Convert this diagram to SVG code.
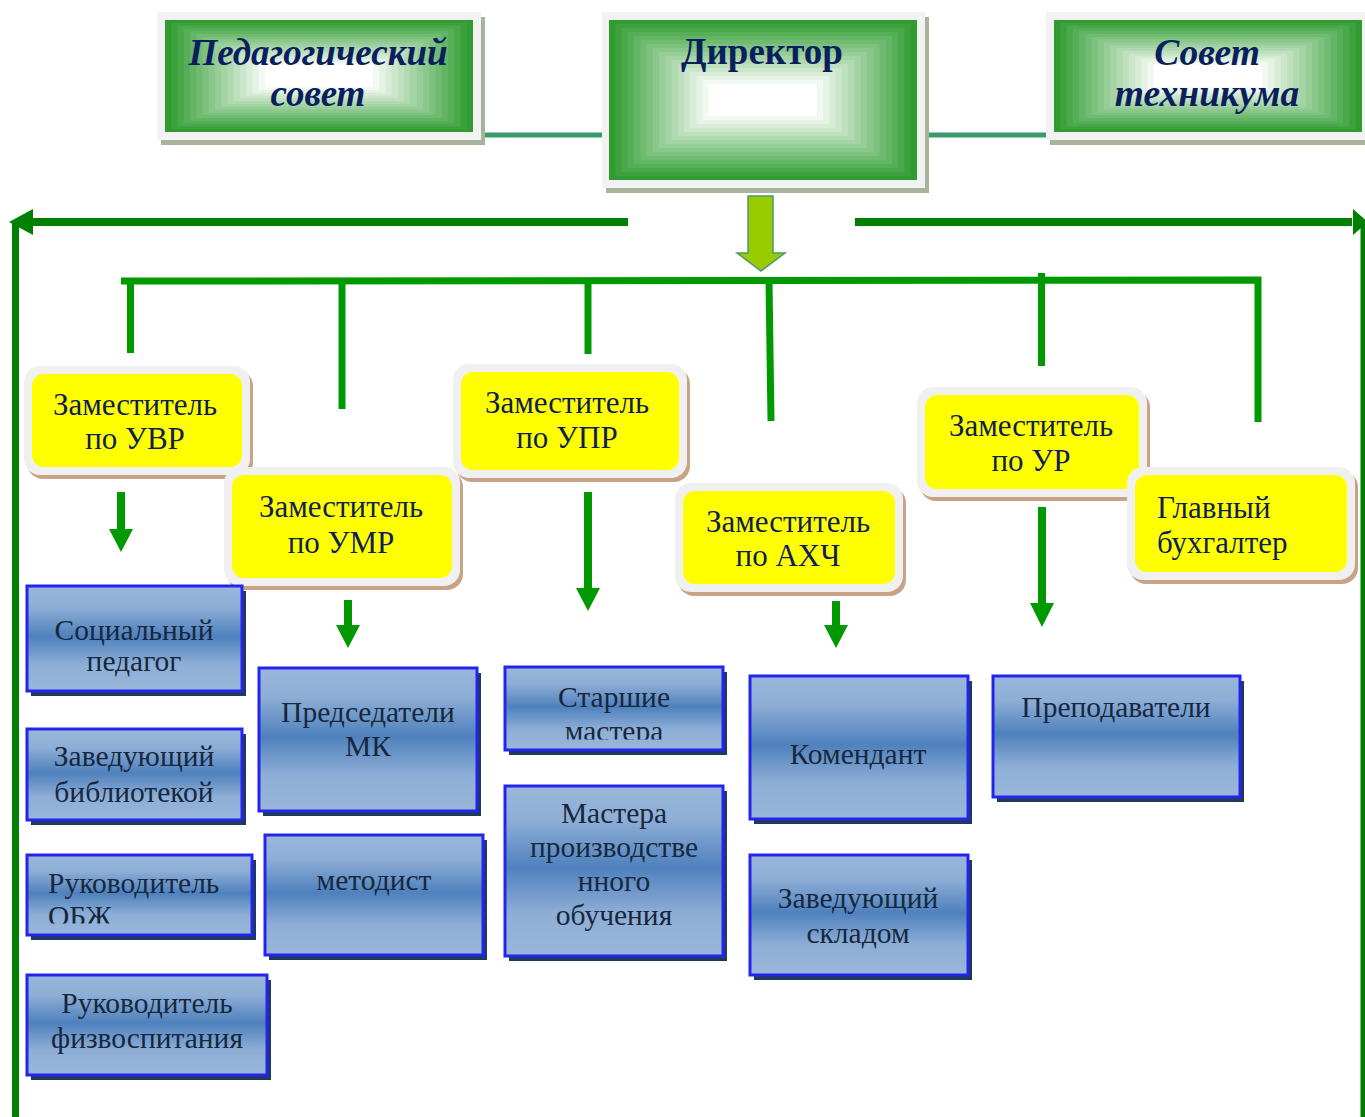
<svg xmlns="http://www.w3.org/2000/svg" xmlns:xlink="http://www.w3.org/1999/xlink" width="1365" height="1117" viewBox="0 0 1365 1117">
<defs>
<style>
.gshadow{fill:#a9b29a}
.gframe{fill:#f2f2f2}
.gtext{font-family:"Liberation Serif",serif;font-weight:bold;fill:#0b1f5e;text-anchor:middle}
.yshadow{fill:#c9a386}
.yframe{fill:#f0f0f0}
.ybox{fill:#ffff00}
.ytext{font-family:"Liberation Serif",serif;font-size:31px;fill:#0f1f55;text-anchor:middle}
.bshadow{fill:#1f3a5c}
.bbox{fill:url(#blueg);stroke:#2424ec;stroke-width:3}
.btext{font-family:"Liberation Serif",serif;font-size:29.5px;fill:#17283e;text-anchor:middle}
.start{text-anchor:start}
.bus{stroke:#009900;stroke-width:7;fill:none}
.main{stroke:#008000;stroke-width:8;fill:none}
.teal{stroke:#3a9a6e;stroke-width:5}
.sarrow{fill:#009900}
</style>
<linearGradient id="blueg" x1="0" y1="0" x2="0" y2="1">
<stop offset="0" stop-color="#9ab7da"/>
<stop offset="0.2" stop-color="#8eaed6"/>
<stop offset="0.48" stop-color="#4f81bd"/>
<stop offset="0.75" stop-color="#8eaed6"/>
<stop offset="1" stop-color="#9ab7da"/>
</linearGradient>
<symbol id="rectgrad" viewBox="0 0 100 100" preserveAspectRatio="none">
<rect x="0" y="0" width="100" height="100" fill="#2f9b30"/>
<rect x="2.031" y="2.5" width="95.94" height="95" fill="#3ca13d"/>
<rect x="4.063" y="5" width="91.88" height="90" fill="#49a84a"/>
<rect x="6.094" y="7.5" width="87.81" height="85" fill="#56ae57"/>
<rect x="8.125" y="10" width="83.75" height="80" fill="#63b464"/>
<rect x="10.156" y="12.5" width="79.69" height="75" fill="#70ba71"/>
<rect x="12.188" y="15" width="75.63" height="70" fill="#7dc17e"/>
<rect x="14.219" y="17.5" width="71.56" height="65" fill="#8ac78b"/>
<rect x="16.25" y="20" width="67.5" height="60" fill="#97cd98"/>
<rect x="18.281" y="22.5" width="63.44" height="55" fill="#a4d3a4"/>
<rect x="20.313" y="25" width="59.38" height="50" fill="#b1dab1"/>
<rect x="22.344" y="27.5" width="55.31" height="45" fill="#bee0be"/>
<rect x="24.375" y="30" width="51.25" height="40" fill="#cbe6cb"/>
<rect x="26.406" y="32.5" width="47.19" height="35" fill="#d8ecd8"/>
<rect x="28.438" y="35" width="43.13" height="30" fill="#e5f3e5"/>
<rect x="30.469" y="37.5" width="39.06" height="25" fill="#f2f9f2"/>
<rect x="32.5" y="40" width="35" height="20" fill="#ffffff"/>
</symbol>
<clipPath id="clipObzh"><rect x="27" y="855" width="225" height="68.5"/></clipPath>
<clipPath id="clipSm"><rect x="505" y="667" width="218" height="72.5"/></clipPath>
</defs>
<rect width="1365" height="1117" fill="#ffffff"/>

<g id="connectors">
<line class="teal" x1="478" y1="135" x2="603" y2="135"/>
<line class="teal" x1="924" y1="135" x2="1048" y2="135"/>
<line class="main" x1="30" y1="222" x2="628" y2="222"/>
<line x1="15.5" y1="222" x2="15.5" y2="1117" stroke="#008000" stroke-width="7"/>
<polygon fill="#008000" points="9,222 33,209 33,235"/>
<line class="main" x1="855" y1="222" x2="1352" y2="222"/>
<line x1="1363" y1="222" x2="1363" y2="1117" stroke="#008000" stroke-width="5"/>
<polygon fill="#008000" points="1368,222 1353,209 1353,235"/>
<polygon points="748,196 773,196 773,253 785,253 761,271 737,253 748,253" fill="#99cc00" stroke="#4a9a6a" stroke-width="1.5"/>
<polyline class="bus" points="121,281 1258,280 1258,422"/>
<line class="bus" x1="130.5" y1="281" x2="130.5" y2="353"/>
<line class="bus" x1="342" y1="281" x2="342" y2="409"/>
<line class="bus" x1="588" y1="281" x2="588" y2="354"/>
<line class="bus" x1="769" y1="281" x2="771" y2="421"/>
<line class="bus" x1="1041.5" y1="273" x2="1041.5" y2="366"/>
<polygon class="sarrow" points="117,492 125,492 125,529 133,529 121,552 109,529 117,529"/>
<polygon class="sarrow" points="344,600 352,600 352,625 360,625 348,648 336,625 344,625"/>
<polygon class="sarrow" points="584,492 592,492 592,588 600,588 588,611 576,588 584,588"/>
<polygon class="sarrow" points="832,601 840,601 840,625 848,625 836,648 824,625 832,625"/>
<polygon class="sarrow" points="1038,507 1046,507 1046,603 1054,603 1042,627 1030,603 1038,603"/>
</g>

<g id="ped-sovet">
<rect class="gshadow" x="161" y="17" width="324" height="128"/>
<rect class="gframe" x="157" y="12" width="324" height="128"/>
<use href="#rectgrad" xlink:href="#rectgrad" x="165" y="20" width="308" height="112"/>
<text class="gtext" font-style="italic" font-size="37" x="318" y="65">Педагогический</text>
<text class="gtext" font-style="italic" font-size="37" x="318" y="106">совет</text>
</g>

<g id="director">
<rect class="gshadow" x="606" y="17" width="323" height="176"/>
<rect class="gframe" x="602" y="12" width="323" height="176"/>
<use href="#rectgrad" xlink:href="#rectgrad" x="609" y="20" width="308" height="160"/>
<text class="gtext" font-size="37" x="762" y="64">Директор</text>
</g>

<g id="sovet-tekhnikuma">
<rect class="gshadow" x="1050" y="17" width="324" height="128"/>
<rect class="gframe" x="1046" y="12" width="324" height="128"/>
<use href="#rectgrad" xlink:href="#rectgrad" x="1054" y="20" width="308" height="112"/>
<text class="gtext" font-style="italic" font-size="37.5" x="1207" y="65">Совет</text>
<text class="gtext" font-style="italic" font-size="37.5" x="1207" y="106">техникума</text>
</g>

<g id="zam-uvr">
<rect class="yshadow" x="27" y="370" width="226" height="109" rx="16"/>
<rect class="yframe" x="24" y="366" width="226" height="109" rx="16"/>
<rect class="ybox" x="32" y="374" width="210" height="93" rx="12"/>
<text class="ytext" x="135" y="415">Заместитель</text>
<text class="ytext" x="135" y="449">по УВР</text>
</g>

<g id="zam-umr">
<rect class="yshadow" x="227" y="471" width="236" height="119" rx="16"/>
<rect class="yframe" x="224" y="467" width="236" height="119" rx="16"/>
<rect class="ybox" x="232" y="475" width="220" height="103" rx="12"/>
<text class="ytext" x="341" y="517">Заместитель</text>
<text class="ytext" x="341" y="553">по УМР</text>
</g>

<g id="zam-upr">
<rect class="yshadow" x="456" y="368" width="234" height="114" rx="16"/>
<rect class="yframe" x="453" y="364" width="234" height="114" rx="16"/>
<rect class="ybox" x="461" y="372" width="218" height="98" rx="12"/>
<text class="ytext" x="567" y="413">Заместитель</text>
<text class="ytext" x="567" y="448">по УПР</text>
</g>

<g id="zam-akhch">
<rect class="yshadow" x="678" y="487" width="228" height="109" rx="16"/>
<rect class="yframe" x="675" y="483" width="228" height="109" rx="16"/>
<rect class="ybox" x="683" y="491" width="212" height="93" rx="12"/>
<text class="ytext" x="788" y="532">Заместитель</text>
<text class="ytext" x="788" y="566">по АХЧ</text>
</g>

<g id="zam-ur">
<rect class="yshadow" x="920" y="391" width="230" height="110" rx="16"/>
<rect class="yframe" x="917" y="387" width="230" height="110" rx="16"/>
<rect class="ybox" x="925" y="395" width="214" height="94" rx="12"/>
<text class="ytext" x="1031" y="436">Заместитель</text>
<text class="ytext" x="1031" y="471">по УР</text>
</g>

<g id="glavbukh">
<rect class="yshadow" x="1130" y="471" width="228" height="113" rx="16"/>
<rect class="yframe" x="1127" y="467" width="228" height="113" rx="16"/>
<rect class="ybox" x="1135" y="475" width="212" height="97" rx="12"/>
<text class="ytext start" x="1157" y="518">Главный</text>
<text class="ytext start" x="1157" y="553">бухгалтер</text>
</g>

<g id="soc-pedagog">
<rect class="bshadow" x="31" y="591" width="215" height="105"/>
<rect class="bbox" x="27" y="586" width="215" height="105"/>
<text class="btext" x="134" y="640">Социальный</text>
<text class="btext" x="134" y="671">педагог</text>
</g>

<g id="zav-bibl">
<rect class="bshadow" x="31" y="734" width="215" height="91"/>
<rect class="bbox" x="27" y="729" width="215" height="91"/>
<text class="btext" x="134" y="766">Заведующий</text>
<text class="btext" x="134" y="802">библиотекой</text>
</g>

<g id="ruk-obzh">
<rect class="bshadow" x="31" y="860" width="225" height="80"/>
<rect class="bbox" x="27" y="855" width="225" height="80"/>
<g clip-path="url(#clipObzh)">
<text class="btext start" x="48" y="893">Руководитель</text>
<text class="btext start" x="48" y="926">ОБЖ</text>
</g>
</g>

<g id="ruk-fizvosp">
<rect class="bshadow" x="31" y="980" width="240" height="100"/>
<rect class="bbox" x="27" y="975" width="240" height="100"/>
<text class="btext" x="147" y="1013">Руководитель</text>
<text class="btext" x="147" y="1048">физвоспитания</text>
</g>

<g id="pred-mk">
<rect class="bshadow" x="263" y="673" width="218" height="143"/>
<rect class="bbox" x="259" y="668" width="218" height="143"/>
<text class="btext" x="368" y="722">Председатели</text>
<text class="btext" x="368" y="756">МК</text>
</g>

<g id="metodist">
<rect class="bshadow" x="269" y="840" width="218" height="120"/>
<rect class="bbox" x="265" y="835" width="218" height="120"/>
<text class="btext" x="374" y="890">методист</text>
</g>

<g id="starshie-mastera">
<rect class="bshadow" x="509" y="672" width="218" height="83"/>
<rect class="bbox" x="505" y="667" width="218" height="83"/>
<g clip-path="url(#clipSm)">
<text class="btext" x="614" y="707">Старшие</text>
<text class="btext" x="614" y="741">мастера</text>
</g>
</g>

<g id="mastera-po">
<rect class="bshadow" x="509" y="791" width="218" height="170"/>
<rect class="bbox" x="505" y="786" width="218" height="170"/>
<text class="btext" x="614" y="823">Мастера</text>
<text class="btext" x="614" y="857">производстве</text>
<text class="btext" x="614" y="891">нного</text>
<text class="btext" x="614" y="925">обучения</text>
</g>

<g id="komendant">
<rect class="bshadow" x="754" y="681" width="218" height="143"/>
<rect class="bbox" x="750" y="676" width="218" height="143"/>
<text class="btext" x="858" y="764">Комендант</text>
</g>

<g id="zav-sklad">
<rect class="bshadow" x="754" y="860" width="218" height="120"/>
<rect class="bbox" x="750" y="855" width="218" height="120"/>
<text class="btext" x="858" y="908">Заведующий</text>
<text class="btext" x="858" y="943">складом</text>
</g>

<g id="prepodavateli">
<rect class="bshadow" x="997" y="681" width="247" height="121"/>
<rect class="bbox" x="993" y="676" width="247" height="121"/>
<text class="btext" x="1116" y="717">Преподаватели</text>
</g>
</svg>
